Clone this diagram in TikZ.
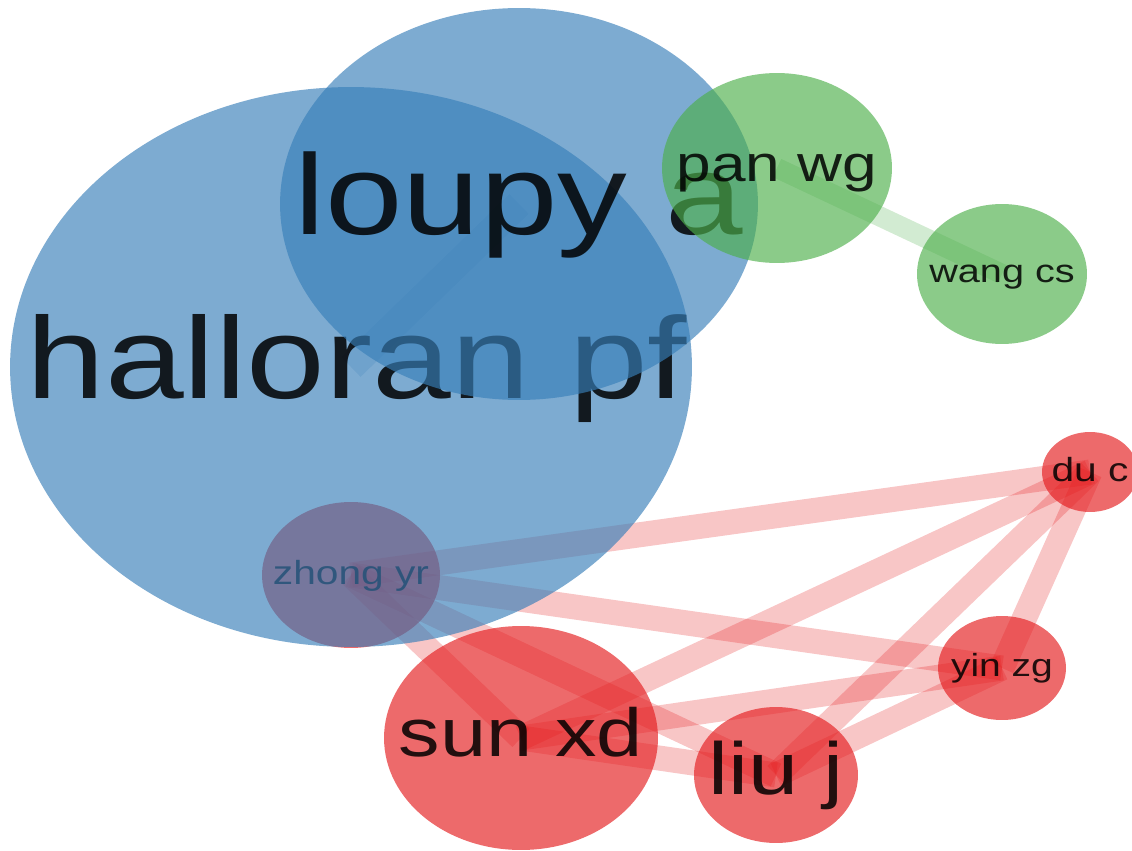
\documentclass[tikz,border=0pt]{standalone}
\usepackage{fontspec}
\setmainfont{Liberation Sans}[FakeStretch=1.22]
\usetikzlibrary{shapes.geometric,backgrounds}
\definecolor{setblue}{HTML}{377EB8}
\definecolor{setred}{HTML}{E41A1C}
\definecolor{setgreen}{HTML}{4DAF4A}
\tikzset{
  blob/.style={ellipse, draw=none, inner sep=0pt, fill=#1, fill opacity=.65},
  lbl/.style={inner sep=0pt, anchor=base, yshift=-.27*#1pt, text=black, text opacity=.85, font=\fontsize{#1}{#1}\selectfont},
  link/.style={line width=.5cm, draw=#1, draw opacity=.25}
}
\begin{document}
\begin{tikzpicture}[x=0.02cm, y=0.02cm]
	\useasboundingbox (0, 0) rectangle (1132, 850);
	\node[blob=setred, minimum width=3.56cm, minimum height=2.92cm] (zho) at (351, 275) {};
	\node[lbl=19] (zho-t) at (zho) {zhong yr};
	\node[blob=setblue, minimum width=13.64cm, minimum height=11.2cm] (hal) at (351, 483) {};
	\node[lbl=66, xshift=.12cm] (hal-t) at (hal) {halloran pf};
	\node[blob=setblue, minimum width=9.56cm, minimum height=7.84cm] (lou) at (519, 646) {};
	\node[lbl=65] (lou-t) at (lou) {loupy a};
	\node[blob=setgreen, minimum width=4.6cm, minimum height=3.8cm] (pan) at (777, 682) {};
	\node[lbl=29] (pan-t) at (pan) {pan wg};
	\node[blob=setgreen, minimum width=3.4cm, minimum height=2.8cm] (wan) at (1002, 576) {};
	\node[lbl=18.5] (wan-t) at (wan) {wang cs};
	\node[blob=setred, minimum width=1.92cm, minimum height=1.6cm] (duc) at (1090, 378) {};
	\node[lbl=19] (duc-t) at (duc) {du c};
	\node[blob=setred, minimum width=2.56cm, minimum height=2.08cm] (yin) at (1002, 182) {};
	\node[lbl=18.2] (yin-t) at (yin) {yin zg};
	\node[blob=setred, minimum width=5.48cm, minimum height=4.48cm] (sun) at (521, 112) {};
	\node[lbl=38.7] (sun-t) at (sun) {sun xd};
	\node[blob=setred, minimum width=3.28cm, minimum height=2.72cm] (liu) at (776, 75) {};
	\node[lbl=42] (liu-t) at (liu) {liu j};
	\begin{scope}[on background layer]
		\draw[link=setblue, line width=.55cm, draw opacity=.2] (hal.center) -- (lou.center);
		\draw[link=setgreen, line width=.4cm] (pan.center) -- (wan.center);
		\draw[link=setred] (zho.center) -- (duc.center);
		\draw[link=setred] (zho.center) -- (yin.center);
		\draw[link=setred] (zho.center) -- (sun.center);
		\draw[link=setred] (zho.center) -- (liu.center);
		\draw[link=setred] (sun.center) -- (duc.center);
		\draw[link=setred] (sun.center) -- (yin.center);
		\draw[link=setred] (sun.center) -- (liu.center);
		\draw[link=setred] (liu.center) -- (duc.center);
		\draw[link=setred] (liu.center) -- (yin.center);
		\draw[link=setred] (yin.center) -- (duc.center);
	\end{scope}
\end{tikzpicture}
\end{document}
